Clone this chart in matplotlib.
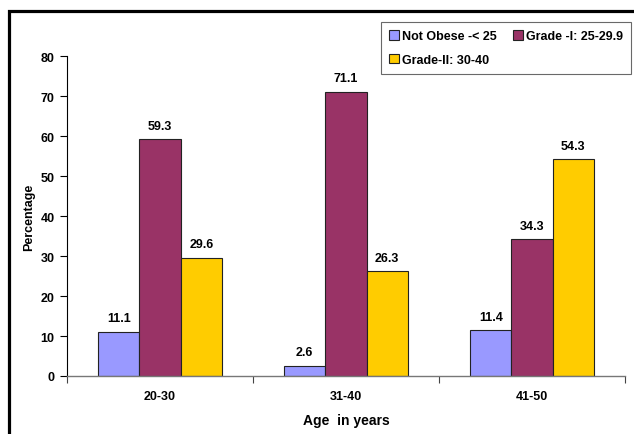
import matplotlib
matplotlib.use("Agg")
import matplotlib.pyplot as plt
from matplotlib.patches import Rectangle
import numpy as np

plt.rcParams['font.family'] = ['Liberation Sans', 'DejaVu Sans']
plt.rcParams['font.weight'] = 'bold'

age_groups = ["20-30", "31-40", "41-50"]
series_names = ["Not Obese -< 25", "Grade -I: 25-29.9", "Grade-II: 30-40"]
not_obese = [11.1, 2.6, 11.4]
grade_1 = [59.3, 71.1, 34.3]
grade_2 = [29.6, 26.3, 54.3]
colors = ["#9999FF", "#993366", "#FFCC00"]

W, H = 634, 435
fig = plt.figure(figsize=(W / 100, H / 100), dpi=100)
ax = fig.add_axes([67 / W, 1 - 377 / H, (625 - 67) / W, (377 - 57) / H])

# outer frame of the chart area
fig.add_artist(Rectangle((9 / W, -0.05), 1.2, 1 - 12 / H + 0.05,
                         transform=fig.transFigure, fill=False,
                         edgecolor="black", linewidth=2.3))

centers = np.arange(len(age_groups)) + 0.5
bw = 0.222
handles = []
for i, (vals, name, c) in enumerate(zip([not_obese, grade_1, grade_2], series_names, colors)):
    xs = centers + (i - 1) * bw
    bars = ax.bar(xs, vals, width=bw, color=c, edgecolor="#222222", linewidth=0.8, label=name)
    handles.append(bars)
    for x, v in zip(xs, vals):
        ax.text(x, v + 1.8, f"{v:.1f}", ha="center", va="bottom", fontsize=9, fontweight="bold")

ax.set_xlim(0, 3)
ax.set_ylim(0, 80)
ax.set_yticks(range(0, 81, 10))
ax.set_xticks([0, 1, 2, 3], minor=False)
ax.set_xticklabels([])
ax.set_xticks(centers, minor=True)
ax.set_xticklabels(age_groups, minor=True, fontsize=9, fontweight="bold")
ax.tick_params(axis="x", which="minor", length=0, pad=10)
ax.tick_params(axis="x", which="major", length=5, direction="out", color="#444444")
ax.tick_params(axis="y", length=5, direction="out", labelsize=9, pad=4)
for lbl in ax.get_yticklabels():
    lbl.set_fontweight("bold")

for s in ["top", "right"]:
    ax.spines[s].set_visible(False)
ax.spines["left"].set_linewidth(0.8)
ax.spines["bottom"].set_color("#777777")
ax.spines["bottom"].set_linewidth(1.0)

ax.set_ylabel("Percentage", fontsize=9, fontweight="bold", labelpad=4)
ax.set_xlabel("Age  in years", fontsize=10, fontweight="bold", labelpad=8)

order = [0, 2, 1]
leg = fig.legend([handles[k] for k in order], [series_names[k] for k in order],
                 ncol=2, loc="upper right", bbox_to_anchor=(631 / W, 1 - 23 / H),
                 fontsize=9, frameon=True, fancybox=False, edgecolor="#444444",
                 handlelength=0.8, handleheight=0.8, handletextpad=0.25,
                 columnspacing=1.3, borderpad=0.65, labelspacing=0.9, borderaxespad=0)
leg.get_frame().set_linewidth(0.8)
for t in leg.get_texts():
    t.set_fontweight("bold")

fig.savefig("out.png", dpi=100)
